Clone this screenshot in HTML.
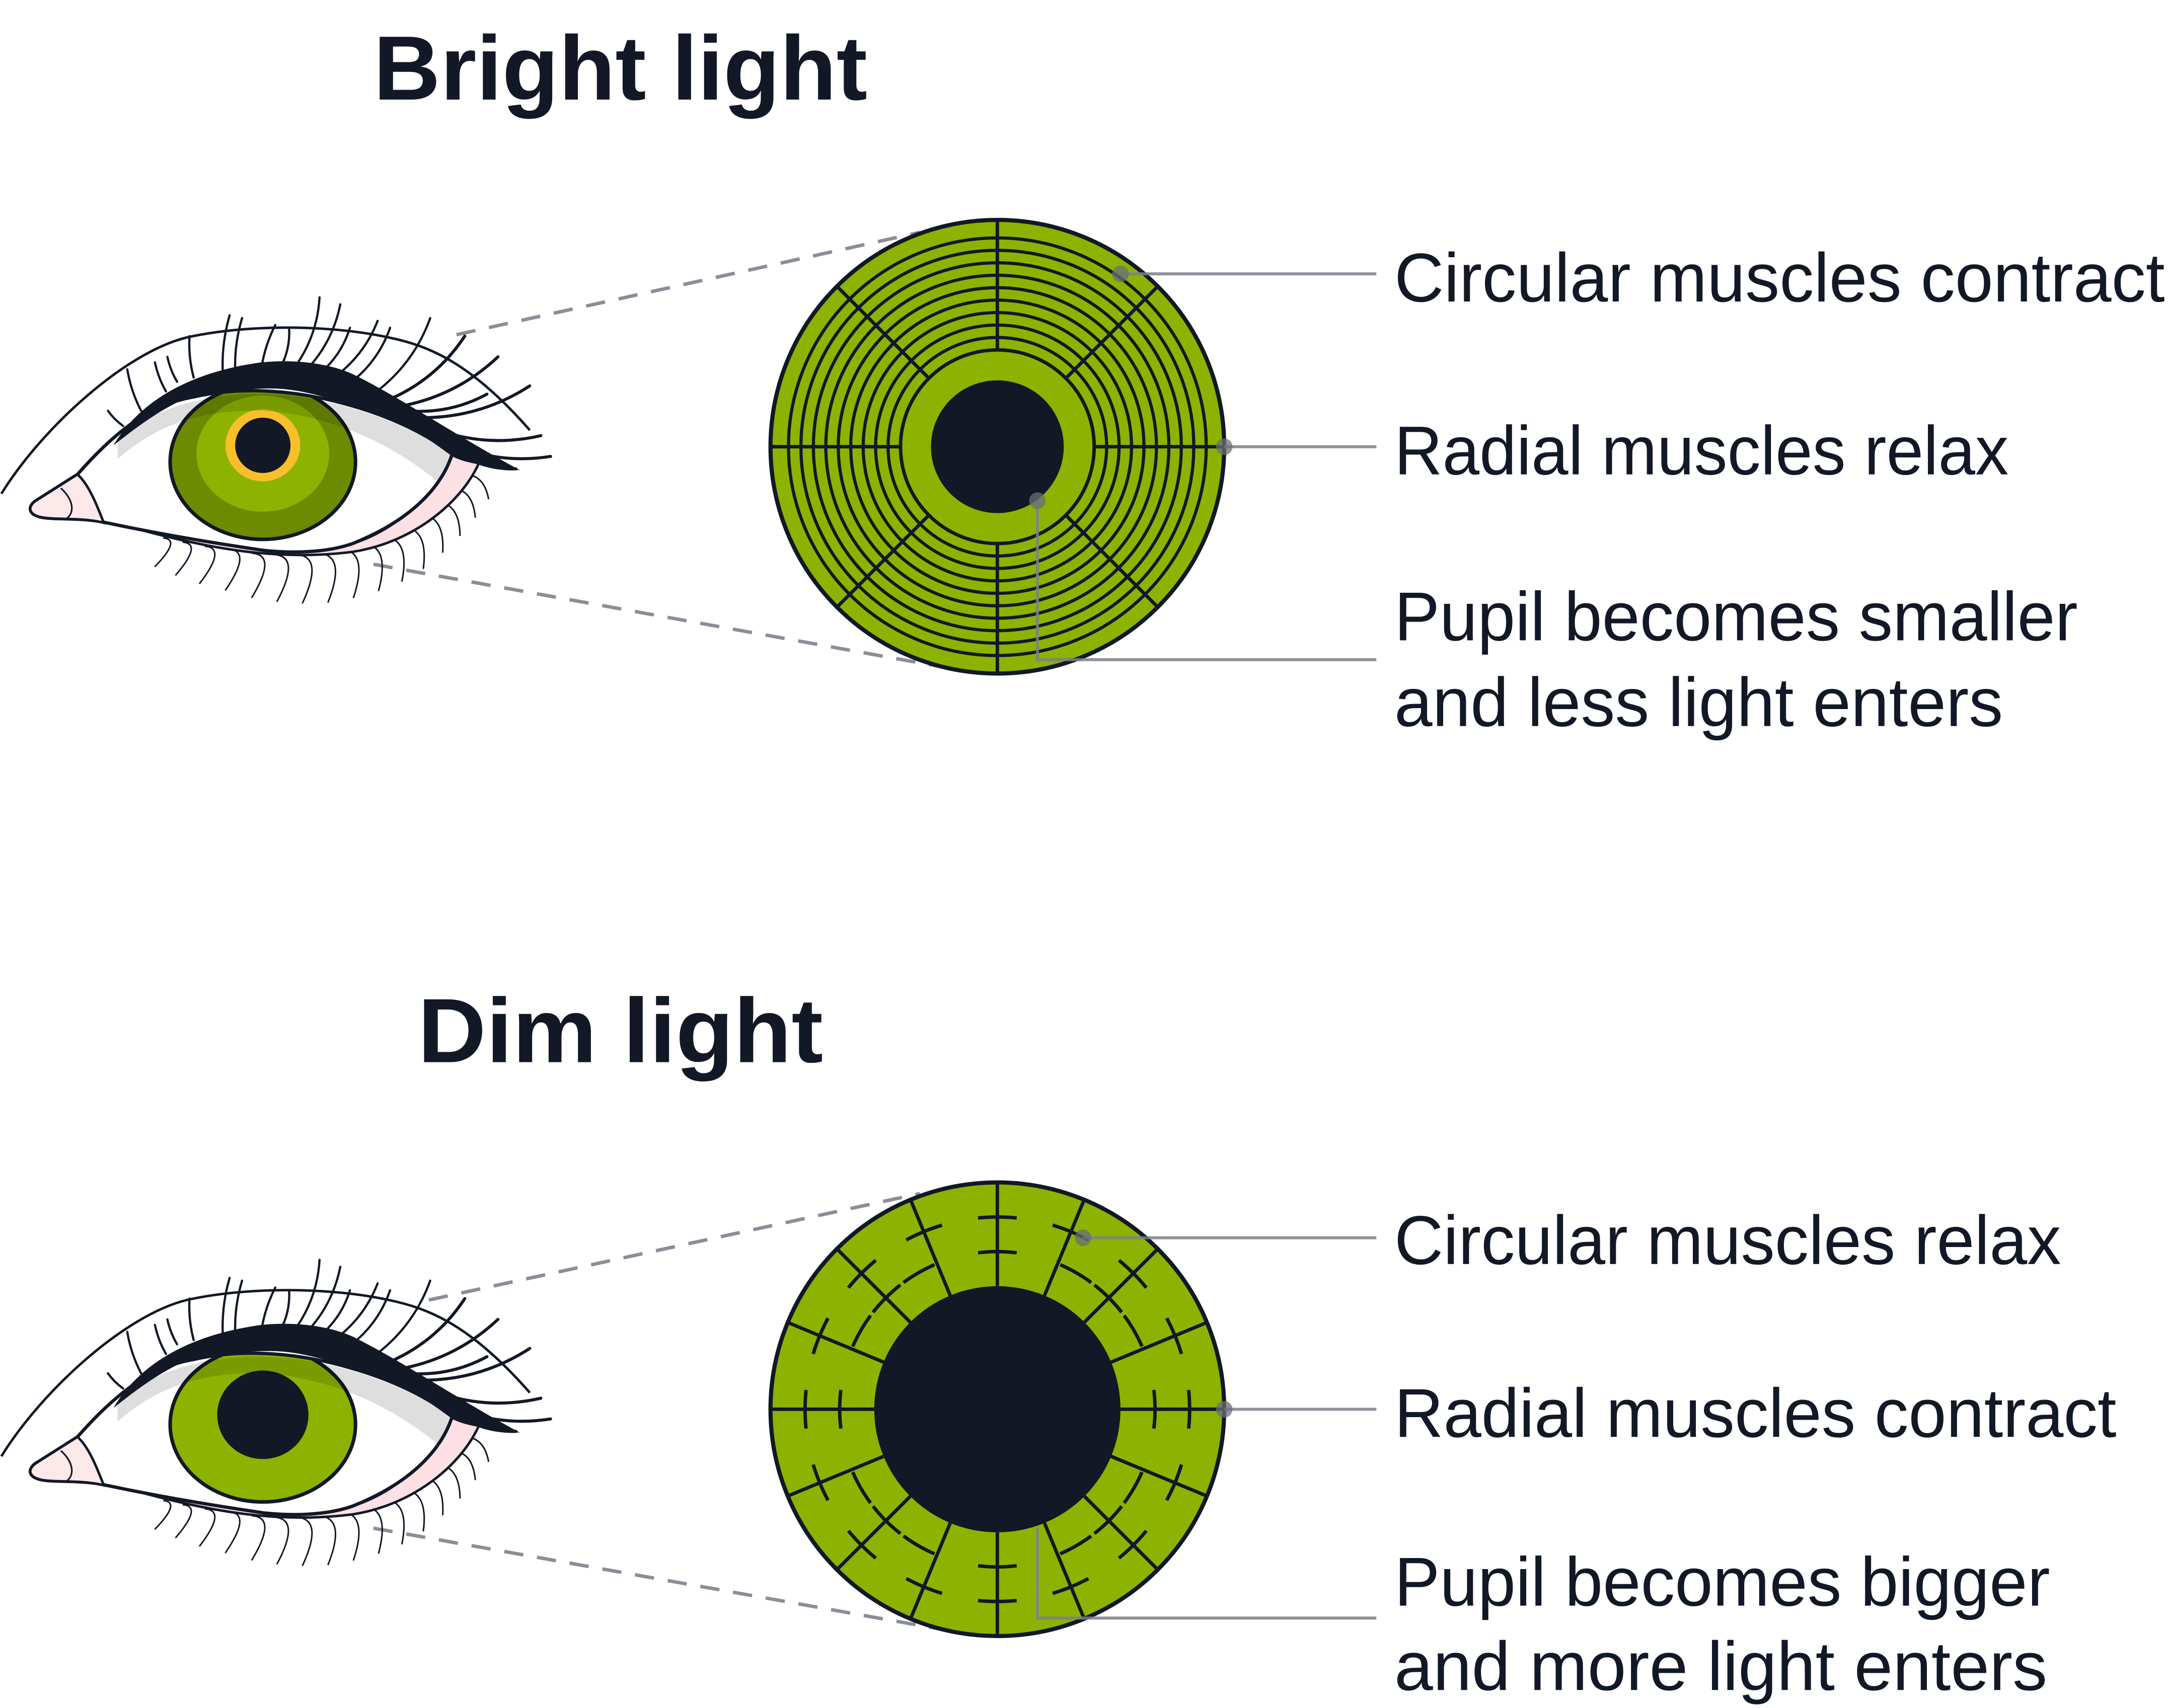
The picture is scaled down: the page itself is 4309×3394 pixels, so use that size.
<!DOCTYPE html>
<html><head><meta charset="utf-8"><style>
html,body{margin:0;padding:0;background:#fff;}
svg{display:block;}
text{font-family:"Liberation Sans",sans-serif;fill:#121826;}
</style></head><body>
<svg id="s" xmlns="http://www.w3.org/2000/svg" width="4309" height="3394" viewBox="0 0 1568 1235">
<rect width="1568" height="1235" fill="#fff"/>
<g stroke="#8b8e96" stroke-width="2.5" stroke-dasharray="14 10" fill="none">
<line x1="330" y1="242" x2="665" y2="168"/>
<line x1="270" y1="408" x2="680" y2="482"/>
<line x1="310" y1="940" x2="665" y2="863"/>
<line x1="270" y1="1105" x2="680" y2="1178"/>
</g>
<g id="eyes"></g>
<g id="iris"></g>
<g id="leaders" stroke="#7d8088" stroke-width="2.2" fill="none" stroke-opacity="0.85">
<line x1="810" y1="198" x2="995" y2="198"/>
<line x1="885" y1="323" x2="995" y2="323"/>
<polyline points="750,362 750,477 995,477"/>
<line x1="783" y1="895" x2="995" y2="895"/>
<line x1="885" y1="1019" x2="995" y2="1019"/>
<polyline points="750,1105 750,1170 995,1170"/>
</g>
<g fill="#6b6e75" fill-opacity="0.75">
<circle cx="810" cy="198" r="6"/><circle cx="885" cy="323" r="6"/><circle cx="750" cy="362" r="6"/>
<circle cx="783" cy="895" r="6"/><circle cx="885" cy="1019" r="6"/>
</g>
<text x="270" y="72" font-size="66" font-weight="bold" textLength="357" lengthAdjust="spacingAndGlyphs">Bright light</text>
<text x="302" y="768" font-size="66" font-weight="bold" textLength="293" lengthAdjust="spacingAndGlyphs">Dim light</text>
<g font-size="50">
<text x="1008" y="218" textLength="557" lengthAdjust="spacingAndGlyphs">Circular muscles contract</text>
<text x="1008" y="343" textLength="444" lengthAdjust="spacingAndGlyphs">Radial muscles relax</text>
<text x="1008" y="463" textLength="494" lengthAdjust="spacingAndGlyphs">Pupil becomes smaller</text>
<text x="1008" y="525" textLength="440" lengthAdjust="spacingAndGlyphs">and less light enters</text>
<text x="1008" y="914" textLength="482" lengthAdjust="spacingAndGlyphs">Circular muscles relax</text>
<text x="1008" y="1039" textLength="522" lengthAdjust="spacingAndGlyphs">Radial muscles contract</text>
<text x="1008" y="1161" textLength="474" lengthAdjust="spacingAndGlyphs">Pupil becomes bigger</text>
<text x="1008" y="1222" textLength="472" lengthAdjust="spacingAndGlyphs">and more light enters</text>
</g>
</svg>
<script>
var NS="http://www.w3.org/2000/svg";
function el(t,a,p){var e=document.createElementNS(NS,t);for(var k in a)e.setAttribute(k,a[k]);p.appendChild(e);return e;}
var D="#121826",G="#8db300";
var eyes=document.getElementById("eyes"),iris=document.getElementById("iris");
function eye(dy,bright){
 var g=el("g",{transform:"translate(0,"+dy+")"},eyes);
 var id="clip"+dy;
 var defs=el("defs",{},g);
 var white="M26,362 L56,343 C85,310 110,292 140,287 C175,279 215,282 253,293 C285,302 310,315 327,328 C320,350 300,375 255,393 C235,400 210,400 191,398 C150,392 110,385 77,378 C60,374 40,376 30,374 C20,372 20,366 26,362 Z";
 var cp=el("clipPath",{id:id},defs);el("path",{d:white},cp);
 el("path",{d:"M1,357 C30,310 90,255 135,244 C180,234 240,235 281,244 C310,250 340,262 383,311",fill:"none",stroke:D,"stroke-width":1.8},g);
 var lb=[[118,387],[132,390],[148,393],[165,395],[182,398],[198,399],[214,399],[230,398],[246,395],[262,391],[277,386],[291,379],[304,370],[316,361],[327,351],[337,341]];
 lb.forEach(function(b,i){var t=i/(lb.length-1);var len=24+14*Math.sin(t*Math.PI);var ang=Math.PI/2-0.9*(t-0.35);
  var tx=b[0]+Math.cos(ang)*len*0.5+len*0.5*(t-0.2),ty=b[1]+Math.sin(ang)*len;
  el("path",{d:"M"+b[0]+","+(b[1]+2)+" Q"+(b[0]+len*0.55)+","+(b[1]+3)+" "+tx+","+ty,fill:"none",stroke:D,"stroke-width":1.1},g);});
 el("path",{d:"M105,384 C150,396 200,406 255,399 C300,392 335,362 347,333 L327,328 C310,365 280,385 255,393 C230,400 200,400 191,398 Z",fill:"#fde0e3",stroke:D,"stroke-width":1.8},g);
 el("path",{d:white,fill:"#fff"},g);
 var ig=el("g",{"clip-path":"url(#"+id+")"},g);
 if(bright){
  el("ellipse",{cx:190,cy:334,rx:67,ry:56,fill:"#6e8a00",stroke:D,"stroke-width":2.6},ig);
  el("ellipse",{cx:190,cy:328,rx:48,ry:42,fill:G},ig);
  el("ellipse",{cx:190,cy:322,rx:27,ry:26,fill:"#f9bf2a"},ig);
  el("ellipse",{cx:190,cy:322,rx:20,ry:20,fill:D},ig);
 }else{
  el("ellipse",{cx:190,cy:334,rx:67,ry:56,fill:G,stroke:D,"stroke-width":2.6},ig);
  el("ellipse",{cx:190,cy:327,rx:33,ry:32,fill:D},ig);
 }
 el("path",{d:"M85,318 C110,295 150,284 190,285 C240,286 290,304 327,328 L316,348 C285,322 240,300 190,297 C140,296 110,310 85,332 Z",fill:"#000","fill-opacity":0.13},ig);
 el("path",{d:white,fill:"none",stroke:D,"stroke-width":2.4},g);
 el("path",{d:"M26,362 L56,343 C64,350 70,365 75,378 C60,374 40,376 30,374 C20,372 20,366 26,362Z",fill:"#fde8ea",stroke:D,"stroke-width":1.8},g);
 el("path",{d:"M44,353 C52,360 55,370 48,375",fill:"none",stroke:D,"stroke-width":1.2},g);
 var ul=[[89,308,78,297],[102,297,92,267],[120,283,112,262],[128,276,121,258],[140,273,137,243],[161,268,166,228],[170,267,175,230],[189,266,199,235],[202,267,209,237],[212,267,231,215],[220,269,246,220],[230,271,253,237],[240,274,273,232],[253,277,282,237],[271,284,311,230],[281,289,336,243],[288,294,360,258],[294,297,352,285],[304,302,383,279],[314,310,391,315],[324,320,398,330],[332,328,373,339]];
 ul.forEach(function(l){var mx=(l[0]+l[2])/2,my=(l[1]+l[3])/2;var dx=l[2]-l[0],dy2=l[3]-l[1];
  var cx=mx-dy2*0.15,cy=my+dx*0.15; if(l[0]<200){cx=mx+dy2*0.08;cy=my-dx*0.08;}
  el("path",{d:"M"+l[0]+","+l[1]+" Q"+cx+","+cy+" "+l[2]+","+l[3],fill:"none",stroke:D,"stroke-width":l[0]>280?2.2:1.6,"stroke-linecap":"round"},g);});
 el("path",{d:"M82,322 C98,295 130,270 189,262 C220,259 245,265 258,272 C290,288 335,318 376,340 C352,337 336,335 327,330 C300,310 280,298 253,293 C230,285 210,280 189,281 C160,282 140,285 128,291 C110,300 95,312 82,322Z",fill:D},g);
}
eye(0,true);eye(696,false);
function P(cx,cy,r,a){return [cx+r*Math.cos(a),cy-r*Math.sin(a)];}
(function(){var cx=721,cy=323,g=iris;
 el("circle",{cx:cx,cy:cy,r:164,fill:G,stroke:D,"stroke-width":3},g);
 [79,88,97,106,115,124,133,142,151].forEach(function(r){el("circle",{cx:cx,cy:cy,r:r,fill:"none",stroke:D,"stroke-width":2.3},g);});
 el("circle",{cx:cx,cy:cy,r:70,fill:"none",stroke:D,"stroke-width":2.5},g);
 for(var k=0;k<8;k++){var a=k*Math.PI/4,p1=P(cx,cy,70,a),p2=P(cx,cy,164,a);el("line",{x1:p1[0],y1:p1[1],x2:p2[0],y2:p2[1],stroke:D,"stroke-width":2.5},g);}
 el("circle",{cx:cx,cy:cy,r:48,fill:D},g);
})();
(function(){var cx=721,cy=1019,g=iris;
 el("circle",{cx:cx,cy:cy,r:164,fill:G,stroke:D,"stroke-width":3},g);
 function arc(r,a1,a2){var p1=P(cx,cy,r,a1),p2=P(cx,cy,r,a2);el("path",{d:"M"+p1[0]+","+p1[1]+" A"+r+","+r+" 0 0 0 "+p2[0]+","+p2[1],fill:"none",stroke:D,"stroke-width":2.5},g);}
 var deg=Math.PI/180;
 for(var k=0;k<16;k++){var a=k*22.5*deg,p1=P(cx,cy,89,a),p2=P(cx,cy,164,a);el("line",{x1:p1[0],y1:p1[1],x2:p2[0],y2:p2[1],stroke:D,"stroke-width":2.5},g);
  if(k%2==0){[114,139].forEach(function(r){var s=14/r;arc(r,a-s,a+s);});}
  else{var s=14/139;arc(139,a-s,a+s);
   var m=k*22.5;var near=(k%4==1)?m+22.5:m-22.5;
   var dir=near>m?1:-1; var a1=a, a2=a+dir*14*deg; if(dir>0)arc(114,a1+1*deg,a2);else arc(114,a2,a1-1*deg);}
 }
 el("circle",{cx:cx,cy:cy,r:89,fill:D},g);
})();
</script>
</body></html>
